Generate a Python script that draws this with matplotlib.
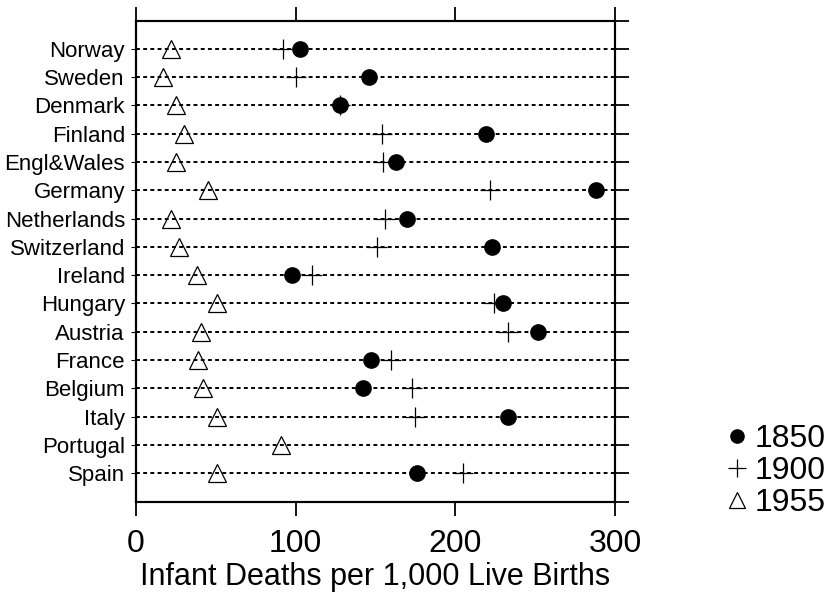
import numpy as np
import matplotlib
matplotlib.use("Agg")
import matplotlib.pyplot as plt
from matplotlib.lines import Line2D

plt.rcParams['font.family'] = ['Liberation Sans', 'DejaVu Sans']

countries = ["Norway", "Sweden", "Denmark", "Finland", "Engl&Wales", "Germany",
             "Netherlands", "Switzerland", "Ireland", "Hungary", "Austria",
             "France", "Belgium", "Italy", "Portugal", "Spain"]
d1850 = [103, 146, 128, 219, 163, 288, 170, 223, 98, 230, 252, 147, 142, 233, np.nan, 176]
d1900 = [92, 100, 128, 154, 155, 222, 156, 151, 110, 224, 233, 160, 173, 175, np.nan, 205]
d1955 = [22, 17, 25, 30, 25, 45, 22, 27, 38, 51, 41, 39, 42, 51, 91, 51]
years = ["1850", "1900", "1955"]
xticks = [0, 100, 200, 300]
xlabel = "Infant Deaths per 1,000 Live Births"

n = len(countries)
ypos = np.arange(n, 0, -1)

fig = plt.figure(figsize=(8.28, 6.02), dpi=100)
ax = fig.add_axes([136/828, 1-501.5/602, (615-136)/828, (501.5-20.5)/602])

ax.hlines(ypos, 0, 300, colors='black', linestyles=(0, (2, 1.7)), linewidth=1.4, zorder=1)
ax.plot(d1955, ypos, linestyle='none', marker='^', markersize=12.5, markerfacecolor='none',
        markeredgecolor='black', markeredgewidth=0.9, zorder=2)
ax.plot(d1900, ypos, linestyle='none', marker='+', markersize=14, color='black',
        markeredgewidth=0.9, zorder=3)
ax.plot(d1850, ypos, linestyle='none', marker='o', markersize=11, color='black', zorder=4)

ax.set_xlim(0, 300)
ax.set_ylim(0, 17)
ax.set_xticks(xticks)
ax.set_xticklabels([str(t) for t in xticks], fontsize=23)
ax.set_yticks(ypos)
ax.set_yticklabels(countries, fontsize=16)
ax.tick_params(axis='y', left=False, right=False, pad=4.5)
ax.tick_params(axis='x', direction='out', length=10, width=1.3, top=True, bottom=True,
               labeltop=False, pad=10)
ax.set_xlabel(xlabel, fontsize=22, labelpad=2)
for s in ax.spines.values():
    s.set_linewidth(1.5)

ax2 = ax.twinx()
ax2.set_ylim(0, 17)
ax2.set_yticks(np.arange(0, 18))
ax2.tick_params(axis='y', direction='out', length=10, width=1.3, labelright=False)
for s in ax2.spines.values():
    s.set_linewidth(1.5)

handles = [Line2D([], [], linestyle='none', marker='o', markersize=9.5, color='black'),
           Line2D([], [], linestyle='none', marker='+', markersize=13, color='black', markeredgewidth=0.9),
           Line2D([], [], linestyle='none', marker='^', markersize=11, markerfacecolor='none',
                  markeredgecolor='black', markeredgewidth=0.9)]
fig.legend(handles, years, loc='center left', bbox_to_anchor=(729/828, 1-471/602),
           frameon=False, fontsize=23, handlelength=0.5, handletextpad=0.3,
           labelspacing=0.07, borderpad=0, borderaxespad=0)

fig.savefig("out.png", dpi=100)
